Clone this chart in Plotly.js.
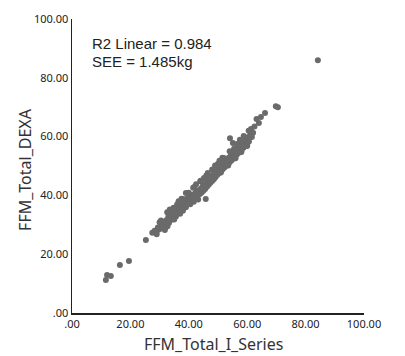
<!DOCTYPE html>
<html>
<head>
<meta charset="utf-8">
<script src="https://cdn.plot.ly/plotly-3.0.1.min.js"></script>
<style>html,body{margin:0;padding:0;background:#fff;}#chart{width:405px;height:356px;}</style>
</head>
<body>
<div id="chart"></div>
<script>
// FFM by I-Series (x) vs DEXA (y), kg
const ffmISeries = [
  11.6, 12.0, 13.3, 16.4, 19.5, 25.3,
  27.5, 28.3, 28.9, 29.4, 29.8, 30.3, 30.6, 31.0, 31.2, 31.6, 31.8, 32.1, 32.4, 32.6, 32.7, 33.0, 33.2, 33.6,
  34.1, 34.4, 34.7, 35.0, 35.3, 35.6, 35.9, 36.2, 36.5, 36.8, 37.0, 37.3, 37.6, 37.9, 38.2, 38.5, 38.8, 39.0,
  39.3, 39.6, 39.9, 40.2, 40.5, 40.8, 41.1, 41.4, 41.7, 42.0, 42.3, 42.6, 42.9, 43.2, 43.5, 43.8, 44.1, 44.4,
  44.7, 45.0, 45.8, 45.3, 45.6, 45.9, 46.2, 46.5, 46.8, 47.1, 47.4, 47.7, 48.0, 48.3, 48.6, 48.9, 49.2, 49.5,
  49.8, 50.1, 50.4, 50.7, 51.0, 51.3, 51.6, 51.9, 52.2, 52.5, 52.8, 53.1, 53.4, 53.7, 54.0, 54.1, 55.1,
  54.3, 54.6, 54.9, 55.2, 55.5, 55.8, 56.1, 56.4, 56.7, 57.0, 57.3, 57.6, 57.9, 58.2, 58.5, 58.8, 59.1, 59.4,
  59.7, 60.0, 60.3, 60.6, 61.0, 61.3, 61.6, 62.0, 63.2, 64.0, 64.7, 66.1, 69.8, 70.5, 84.2,
  36.0, 38.0, 40.0, 42.0, 44.0, 46.0, 48.0, 50.0, 52.0, 47.0, 49.0, 51.0, 53.0, 34.0, 30.0, 56.0, 58.0,
  30.5, 33.5, 36.5, 39.0, 41.5, 44.0, 46.5, 49.0, 51.5, 54.0, 56.5, 58.8, 60.5,
  29.0, 32.0, 35.0, 38.0, 40.5, 43.0, 46.0, 48.5, 51.0, 53.5, 56.0, 58.0, 60.0,
  34.8, 37.5, 42.5, 45.2, 50.5, 55.5, 57.5, 62.5
];
const ffmDexa = [
  11.2, 12.9, 12.6, 16.3, 17.7, 24.8,
  27.3, 28.0, 27.5, 29.1, 28.4, 29.6, 28.8, 30.4, 29.2, 31.0, 28.2, 30.2, 31.6, 34.3, 29.5, 32.8, 30.6, 31.5,
  32.6, 33.8, 31.9, 33.2, 34.6, 32.8, 35.4, 34.0, 36.3, 34.9, 33.8, 36.7, 35.6, 37.8, 36.4, 37.3, 38.6, 36.0,
  37.9, 39.0, 37.2, 38.4, 39.6, 38.0, 40.1, 38.9, 37.8, 40.6, 39.4, 41.2, 40.0, 38.6, 41.7, 40.5, 42.3, 41.0,
  43.0, 41.6, 38.8, 43.5, 42.2, 44.2, 42.9, 45.0, 43.6, 45.6, 44.3, 46.2, 44.9, 47.0, 45.6, 47.6, 46.3, 48.3,
  47.0, 49.0, 47.6, 49.6, 48.2, 50.3, 48.9, 50.9, 49.5, 51.5, 50.1, 52.1, 50.7, 52.8, 51.3, 59.4, 57.8,
  53.4, 51.9, 54.0, 52.5, 54.6, 53.1, 55.2, 53.8, 55.8, 54.4, 56.5, 55.0, 57.2, 55.6, 57.8, 56.3, 58.4, 57.0,
  59.1, 57.6, 59.8, 58.3, 60.5, 62.6, 59.9, 61.3, 66.0, 64.6, 66.7, 68.0, 70.3, 70.0, 86.0,
  36.9, 38.8, 40.9, 42.9, 44.8, 46.8, 48.8, 50.8, 52.7, 46.1, 48.0, 49.9, 51.6, 33.0, 30.9, 55.0, 58.5,
  31.5, 35.2, 38.0, 40.8, 42.6, 45.0, 47.6, 50.2, 52.8, 55.0, 57.5, 60.2, 62.0,
  26.8, 29.0, 31.8, 34.8, 37.0, 39.8, 43.2, 45.6, 47.8, 50.2, 52.6, 54.8, 56.8,
  35.8, 38.9, 43.8, 45.9, 51.8, 55.9, 58.9, 63.4
];
const tickValues = [0, 20, 40, 60, 80, 100];
const tickLabels = ['.00', '20.00', '40.00', '60.00', '80.00', '100.00'];
const statLines = ['R2 Linear = 0.984', 'SEE = 1.485kg'];
const xTitle = 'FFM_Total_I_Series';
const yTitle = 'FFM_Total_DEXA';

const axisCommon = {
  range: [0, 100], tickmode: 'array', tickvals: tickValues, ticktext: tickLabels,
  showgrid: false, zeroline: false, showline: true, linecolor: '#222', linewidth: 1.5,
  ticks: '', tickfont: {family: 'Noto Sans, sans-serif', size: 11, color: '#222'},
  fixedrange: true
};
const titleFont = {family: 'Noto Sans, sans-serif', size: 16, color: '#333'};

const annotations = statLines.map((t, i) => ({
  text: t, xref: 'paper', yref: 'paper', x: 0.062, y: 0.918 - i * 0.061,
  xanchor: 'left', yanchor: 'middle', showarrow: false,
  font: {family: 'Liberation Sans, Arial, sans-serif', size: 15, color: '#222'}
}));
annotations.push({
  text: xTitle, xref: 'paper', yref: 'paper', x: 0.485, y: -0.107,
  xanchor: 'center', yanchor: 'middle', showarrow: false, font: titleFont, borderpad: 0
});
annotations.push({
  text: yTitle, xref: 'paper', yref: 'paper', x: -0.161, y: 0.49, textangle: -90,
  xanchor: 'center', yanchor: 'middle', showarrow: false, font: titleFont
});

Plotly.newPlot('chart', [{
  x: ffmISeries, y: ffmDexa, type: 'scatter', mode: 'markers',
  marker: {color: '#6a6a6a', size: 6, line: {width: 0}},
  hoverinfo: 'skip'
}], {
  width: 405, height: 356,
  margin: {l: 72, r: 41, t: 19, b: 43},
  paper_bgcolor: '#fff', plot_bgcolor: '#fff',
  showlegend: false,
  xaxis: axisCommon,
  yaxis: axisCommon,
  annotations: annotations
}, {staticPlot: true});
</script>
</body>
</html>
